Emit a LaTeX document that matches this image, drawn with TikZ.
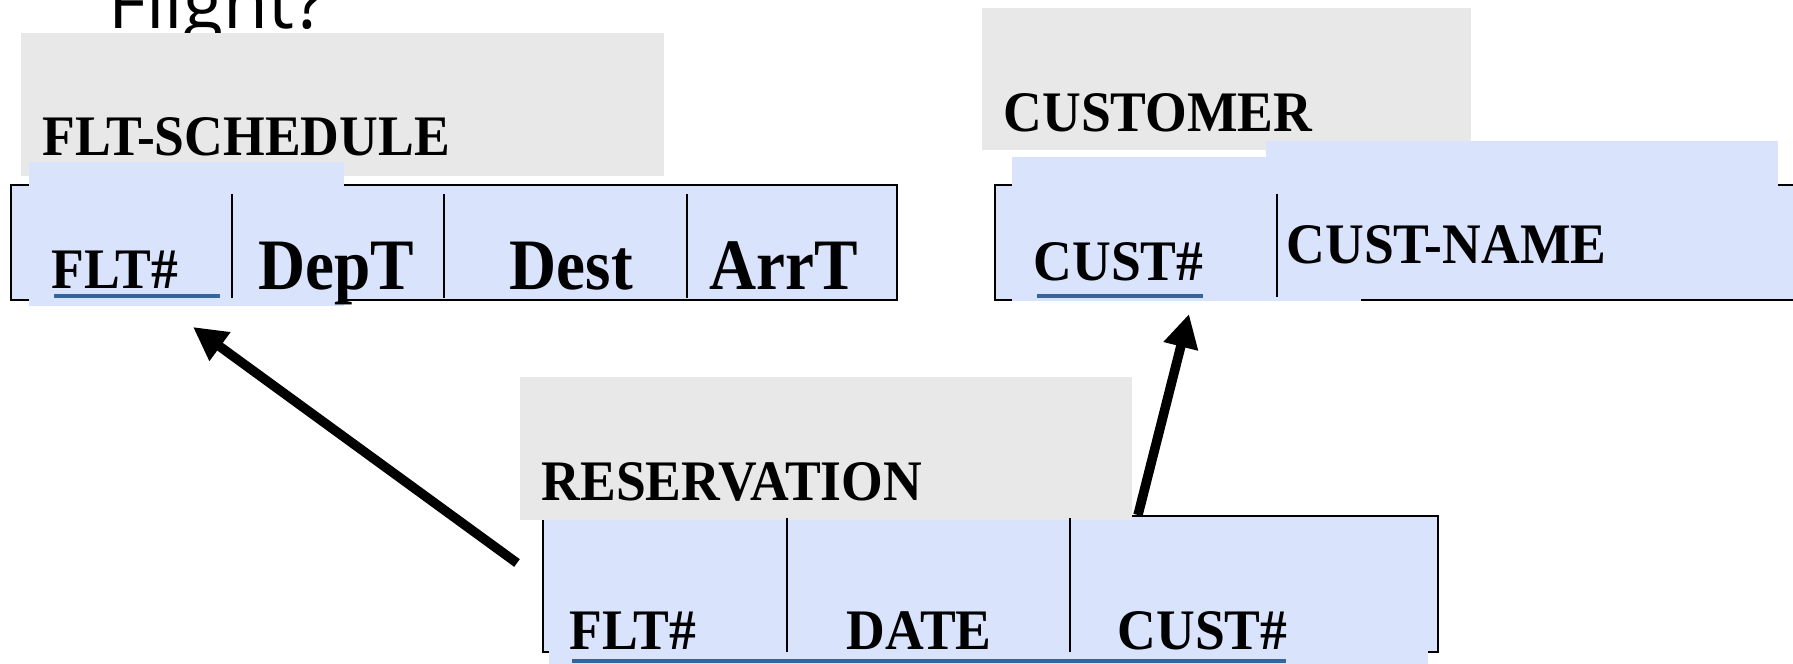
\documentclass[tikz,border=0pt]{standalone}
\usepackage{fontspec}
\setmainfont{Liberation Serif}
\newfontfamily\titlefont{Open Sans}
\usepackage{graphicx}
\usetikzlibrary{arrows.meta}

\definecolor{hdrgray}{RGB}{232,232,232}
\definecolor{cellblue}{RGB}{218,227,252}
\definecolor{keyblue}{RGB}{52,102,156}

% narrow the bold serif a little, as the table labels are set
\newcommand\squeeze[1]{\scalebox{0.935}[1]{#1}}

\tikzset{
  hdrbox/.style={fill=hdrgray, draw=none},
  cellbox/.style={fill=cellblue, draw=none},
  tablebox/.style={fill=cellblue, draw=black, line width=0.75pt},
  divider/.style={draw=black, line width=0.6pt},
  keyline/.style={draw=keyblue, line width=1.2pt},
  lbl/.style={anchor=base west, inner sep=0pt, font=\fontsize{16.3}{19}\selectfont\bfseries},
  biglbl/.style={anchor=base west, inner sep=0pt, font=\fontsize{20.6}{24}\selectfont\bfseries},
  fk/.style={line width=2.7pt, -{Triangle[length=9.5pt,width=9.5pt]}},
}

\begin{document}
\begin{tikzpicture}[x=0.01cm, y=-0.01cm]
  \useasboundingbox (0,0) rectangle (1793,664);
  \clip (0,0) rectangle (1793,664);
  \fill[white] (0,0) rectangle (1793,664);

  % slide title, mostly above the visible area
  \node[anchor=base west, inner sep=0pt, font=\titlefont\fontsize{20.8}{25}\selectfont] (title) at (108,29) {Flight?};

  % ---------------- FLT-SCHEDULE ----------------
  \path[hdrbox] (21,33) rectangle (664,176);
  \node[lbl] (fsName) at (42,156) {\squeeze{FLT-SCHEDULE}};
  \path[tablebox] (11,185) rectangle (897,300);
  \path[cellbox] (29,162) rectangle (344,306);
  \draw[divider] (232,194) -- (232,298);
  \draw[divider] (444,194) -- (444,298);
  \draw[divider] (687,194) -- (687,298);
  \node[lbl] (fsFlt) at (51,288) {\squeeze{FLT\#}};
  \node[biglbl] (fsDep) at (258,290) {\scalebox{0.9}[1]{DepT}};
  \node[biglbl] (fsDest) at (509,290) {\scalebox{0.9}[1]{Dest}};
  \node[biglbl] (fsArr) at (709,290) {\scalebox{0.9}[1]{ArrT}};
  \draw[keyline] (54,296) -- (220,296);
  \coordinate (fsKey) at (193,327);

  % ---------------- CUSTOMER ----------------
  \path[hdrbox] (982,8) rectangle (1471,150);
  \node[lbl] (cuName) at (1003,131.5) {\squeeze{CUSTOMER}};
  \path[tablebox] (995,185) rectangle (1820,300);
  \path[cellbox] (1012,157) rectangle (1361,301);
  \path[cellbox] (1266,141) rectangle (1778,297);
  \draw[divider] (1277,194) -- (1277,297);
  \node[lbl] (cuNo) at (1033,281) {\squeeze{CUST\#}};
  \node[lbl] (cuNm) at (1286,264) {\squeeze{CUST-NAME}};
  \draw[keyline] (1037,296) -- (1203,296);
  \coordinate (cuKey) at (1189,314);

  % ---------------- RESERVATION ----------------
  \path[tablebox] (543,516) rectangle (1438,652);
  \path[cellbox] (549,530) rectangle (1428,670);
  \path[hdrbox] (520,377) rectangle (1132,520);
  \node[lbl] (rsName) at (541,501) {\squeeze{RESERVATION}};
  \draw[divider] (787,518) -- (787,652);
  \draw[divider] (1070,518) -- (1070,652);
  \node[lbl] (rsFlt) at (569,649) {\squeeze{FLT\#}};
  \node[lbl] (rsDate) at (846,649) {\squeeze{DATE}};
  \node[lbl] (rsCust) at (1117,649) {\squeeze{CUST\#}};
  \draw[keyline] (572,661) -- (1286,661);
  \coordinate (rsFltRef) at (517,563);
  \coordinate (rsCustRef) at (1138,515);

  % ---------------- foreign keys ----------------
  \draw[fk] (rsFltRef) -- (fsKey);
  \draw[fk] (rsCustRef) -- (cuKey);
\end{tikzpicture}
\end{document}
